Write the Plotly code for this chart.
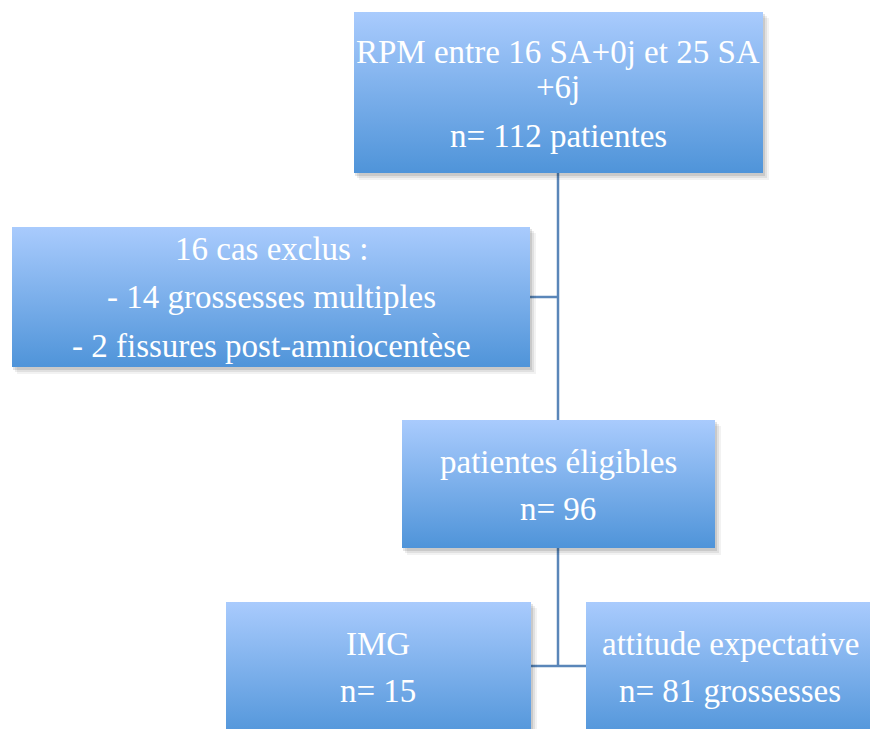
import plotly.graph_objects as go

# Flowchart content
node_names = ["start", "excl", "elig", "img", "expect"]
node_lines = [
    ["RPM entre 16 SA+0j et 25 SA", "+6j", "n= 112 patientes"],
    ["16 cas exclus :", "- 14 grossesses multiples", "- 2 fissures post-amniocentèse"],
    ["patientes éligibles", "n= 96"],
    ["IMG", "n= 15"],
    ["attitude expectative", "n= 81 grossesses"],
]

# Layout (pixel coordinates: x0, y0, x1, y1)
boxes = {
    "start": (354, 12, 763, 173),
    "excl": (12, 227, 530, 367),
    "elig": (402, 420, 715, 548),
    "img": (226, 602, 531, 740),
    "expect": (586, 602, 880, 740),
}
baselines = {
    "start": [63, 98, 147],
    "excl": [260, 308, 357],
    "elig": [473, 520],
    "img": [655, 702],
    "expect": [655, 702],
}
text_x = {"start": 558, "excl": 271, "elig": 558, "img": 378, "expect": 730}
connectors = [
    (558, 173, 558, 420),
    (530, 297, 558, 297),
    (558, 548, 558, 666),
    (531, 666, 586, 666),
]

TOP = "#a9cbfd"
BOTTOM = "#4f94d9"
LINE = "#5a86b9"
FONT = "Liberation Serif"
FS = 33

fig = go.Figure()
shapes = []
for (x0, y0, x1, y1) in connectors:
    shapes.append(dict(type="line", x0=x0, y0=y0, x1=x1, y1=y1,
                       line=dict(color=LINE, width=2.5), layer="below"))

for name in node_names:
    x0, y0, x1, y1 = boxes[name]
    # soft shadow
    for k, a in [(6, 0.05), (4, 0.07), (2, 0.10)]:
        shapes.append(dict(type="rect", x0=x0 + k - 1, y0=y0 + k, x1=x1 + k, y1=y1 + k + 1,
                           fillcolor=f"rgba(0,0,0,{a})", line=dict(width=0), layer="below"))
    fig.add_trace(go.Scatter(
        x=[x0, x1, x1, x0, x0], y=[y0, y0, y1, y1, y0],
        mode="lines", fill="toself", line=dict(width=0, color="rgba(0,0,0,0)"),
        fillgradient=dict(type="vertical", colorscale=[[0, BOTTOM], [1, TOP]]),
        hoverinfo="skip", showlegend=False))

annotations = []
for name, lines in zip(node_names, node_lines):
    for txt, b in zip(lines, baselines[name]):
        annotations.append(dict(x=text_x[name], y=b - 11, text=txt, showarrow=False,
                                xanchor="center", yanchor="middle",
                                font=dict(family=FONT, size=FS, color="white")))

fig.update_layout(
    width=870, height=729, margin=dict(l=0, r=0, t=0, b=0),
    paper_bgcolor="white", plot_bgcolor="white",
    xaxis=dict(range=[0, 870], visible=False, fixedrange=True),
    yaxis=dict(range=[729, 0], visible=False, fixedrange=True),
    shapes=shapes, annotations=annotations,
)
fig.write_html("out.html", post_script="document.body.style.margin='0';",
               config={"displayModeBar": False})
